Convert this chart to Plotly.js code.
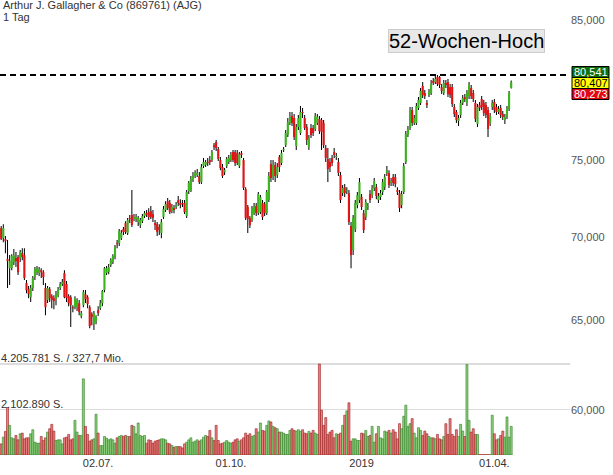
<!DOCTYPE html>
<html><head><meta charset="utf-8">
<script src="https://cdn.plot.ly/plotly-3.0.1.min.js"></script>
<style>html,body{margin:0;padding:0;background:#fff}#chart{width:613px;height:475px}</style>
</head><body><div id="chart"></div>
<script>
const open = [
70.59,69.96,69.90,68.66,68.11,68.11,68.48,68.72,68.79,68.72,
69.03,68.91,67.21,66.85,66.37,66.91,67.57,67.87,67.81,67.99,
67.87,66.91,66.20,66.85,66.43,66.31,66.25,66.49,66.91,67.15,
67.81,67.15,66.43,66.37,65.78,65.78,65.78,66.02,65.26,65.90,
66.55,66.37,65.78,65.37,64.79,64.97,65.61,65.72,66.02,66.79,
67.81,67.87,68.30,68.48,68.79,69.65,69.65,69.96,70.53,70.91,
70.28,71.23,71.42,71.16,71.16,70.97,70.78,71.03,71.35,71.54,
71.61,71.67,71.48,70.91,70.84,70.66,70.28,71.29,71.74,72.31,
72.19,71.67,71.86,71.93,72.38,72.19,72.19,72.19,71.35,72.96,
72.96,73.68,73.95,74.01,73.95,73.55,74.61,74.68,74.88,75.01,
75.01,76.02,76.23,75.75,75.01,74.54,74.21,74.61,74.88,75.01,
75.55,75.55,75.48,74.61,75.48,75.01,73.09,71.93,71.23,71.10,
71.54,71.99,71.54,71.61,72.19,72.12,71.54,72.38,74.74,73.88,
74.68,74.01,75.21,74.81,75.68,76.02,76.71,77.53,78.02,77.88,
75.96,77.26,76.84,78.30,77.88,77.26,75.89,77.19,77.19,77.12,
77.53,77.81,77.74,77.53,75.82,75.08,74.88,75.15,75.55,75.21,
74.88,74.01,72.83,73.22,72.96,72.83,70.72,69.22,70.53,72.06,
72.38,72.57,71.54,71.29,71.93,72.77,72.70,73.16,73.22,72.38,
72.57,72.90,73.22,74.15,74.15,73.49,73.88,73.88,73.03,72.83,
72.06,72.90,74.88,76.71,77.19,78.44,77.53,77.53,78.58,78.93,
80.14,79.64,78.93,79.49,79.64,80.49,80.42,80.78,80.78,80.06,
79.64,80.35,80.42,80.06,80.06,78.65,78.30,77.67,78.09,78.93,
79.35,78.93,79.42,79.99,79.64,78.93,77.46,78.79,79.21,78.93,
78.79,78.44,77.53,78.65,79.00,78.65,78.30,78.58,78.16,77.74,
77.95,78.51,80.00];
const close = [
69.90,70.59,69.78,68.54,68.54,68.85,68.91,68.54,67.87,69.10,
68.79,67.51,66.79,66.55,66.91,67.51,68.05,68.11,68.05,67.87,
67.57,65.78,66.91,66.31,66.20,66.14,66.55,66.85,67.15,67.27,
66.37,66.31,66.02,65.90,65.72,66.31,66.20,65.49,65.43,66.67,
66.25,65.96,64.68,65.20,65.43,65.20,65.43,66.02,66.73,68.11,
68.11,68.18,68.60,68.85,69.40,69.59,70.40,70.28,70.34,70.34,
71.10,71.16,70.78,71.29,71.29,71.23,71.10,71.35,71.54,71.42,
71.29,71.29,71.23,70.78,70.34,70.47,70.97,71.80,72.12,71.86,
71.61,71.93,71.74,72.06,72.19,72.06,72.12,71.61,72.90,73.49,
73.75,73.95,74.15,74.15,73.55,74.54,74.88,74.88,74.81,74.88,
75.55,75.89,75.82,75.08,74.48,73.95,74.34,75.08,75.15,75.35,
75.01,74.81,74.81,75.41,75.35,73.16,71.23,71.16,70.78,71.86,
71.99,71.54,72.77,72.57,71.29,71.54,72.90,73.95,73.82,74.68,
73.95,74.54,74.54,75.48,75.75,76.84,77.60,77.95,77.53,76.57,
77.26,77.88,78.30,78.23,77.19,76.36,76.50,76.71,76.84,78.02,
77.95,76.98,76.91,76.02,75.15,74.41,74.54,74.81,75.35,75.28,
74.15,72.38,73.16,72.83,73.03,70.97,68.91,71.23,72.19,72.70,
73.55,71.93,70.47,72.25,71.99,72.38,73.16,73.62,72.64,72.64,
72.83,73.55,73.88,74.34,73.36,73.62,73.49,73.42,72.90,71.86,
72.77,74.61,76.77,77.12,78.44,77.53,77.88,78.72,79.14,79.78,
79.49,79.42,78.79,79.71,80.28,80.35,80.64,80.28,80.21,79.78,
80.35,80.21,79.56,79.49,78.86,78.16,77.74,77.88,78.93,79.28,
79.21,79.64,80.21,79.42,79.21,77.81,78.65,78.58,78.65,78.23,
78.09,77.12,78.02,78.93,78.44,78.30,78.51,78.09,77.95,77.95,
78.51,79.64,80.41];
const high = [
70.72,70.84,70.09,69.84,68.91,68.97,69.28,69.10,68.91,69.22,
69.34,69.34,67.39,67.03,67.09,67.63,68.18,68.24,68.18,68.11,
67.99,67.21,67.03,66.97,66.55,66.49,66.73,66.97,67.27,67.45,
67.99,67.33,66.55,66.49,65.90,66.43,66.31,66.20,65.55,66.79,
66.79,66.49,65.90,65.49,65.55,65.31,65.84,66.20,66.79,68.18,
68.24,68.36,68.72,68.97,69.53,69.84,70.53,70.47,70.66,71.03,
71.23,71.42,73.03,71.48,71.48,71.35,71.23,71.48,71.67,71.74,
71.86,71.99,71.74,71.10,70.97,70.84,71.16,71.99,72.31,72.51,
72.38,72.12,72.06,72.25,72.64,72.44,72.38,72.38,73.03,73.62,
73.95,74.21,74.34,74.41,74.21,74.74,75.15,75.01,75.15,75.28,
75.68,76.16,76.36,75.89,75.21,74.74,74.48,75.21,75.35,75.55,
75.68,75.68,75.68,75.55,75.62,75.15,73.22,72.06,71.35,71.99,
72.19,72.19,72.90,72.70,72.38,72.25,73.03,74.21,75.01,75.01,
74.88,74.81,75.35,75.68,75.89,77.05,77.88,78.30,78.30,78.16,
77.46,78.09,78.72,78.58,78.09,77.46,76.71,77.46,77.39,78.23,
78.16,78.02,77.88,77.74,76.02,75.82,75.15,75.35,75.82,75.48,
75.15,74.21,73.36,73.42,73.22,73.03,70.97,71.42,72.38,72.90,
73.82,72.77,71.74,72.44,72.19,73.03,73.36,73.82,73.42,72.83,
73.03,73.75,74.08,74.61,74.34,73.82,74.08,74.08,73.22,73.03,
72.96,74.81,76.98,77.32,78.65,78.65,78.09,78.93,79.35,79.99,
80.42,79.85,79.14,79.92,80.57,80.71,80.85,80.93,80.85,80.28,
80.57,80.57,80.64,80.28,80.28,78.86,78.44,78.09,79.14,79.49,
79.56,79.85,80.42,80.21,79.85,79.14,78.86,79.00,79.42,79.14,
79.00,78.65,78.23,79.14,79.21,78.86,78.72,78.79,78.37,78.16,
78.72,79.78,80.54];
const low = [
69.84,69.71,69.03,66.91,67.09,67.99,68.30,68.18,67.69,68.48,
68.60,67.39,66.61,66.31,66.08,66.73,67.39,67.69,67.63,67.51,
67.09,65.31,66.02,66.08,65.72,65.66,65.90,66.37,66.79,67.03,
66.31,66.08,65.84,64.62,65.49,65.66,65.55,65.31,65.14,65.78,
66.02,65.72,64.56,64.73,64.45,64.79,65.26,65.61,65.84,66.67,
67.69,67.75,68.18,68.36,68.66,69.34,69.47,69.84,70.15,70.22,
70.15,70.91,70.66,71.03,70.97,70.72,70.59,70.91,71.23,71.29,
71.10,71.16,70.97,70.47,70.09,70.15,69.96,71.16,71.61,71.74,
71.48,71.54,71.54,71.80,71.99,71.86,71.93,71.48,71.23,72.77,
72.90,73.55,73.82,73.88,73.42,73.42,74.48,74.54,74.61,74.68,
74.88,75.68,75.62,74.94,74.34,73.82,74.01,74.48,74.74,74.88,
74.88,74.61,74.68,74.48,75.15,73.03,71.10,70.28,70.59,70.97,
71.42,71.35,71.42,71.48,71.10,71.35,71.42,72.25,73.55,73.68,
73.55,73.82,74.21,74.68,75.55,75.89,76.57,77.39,77.32,76.36,
75.68,77.05,76.71,77.88,77.05,76.02,75.68,76.50,76.64,76.98,
77.39,76.77,75.68,75.82,74.88,73.55,74.21,74.61,75.15,75.01,
73.95,72.19,72.64,72.57,72.77,70.78,68.11,68.91,70.34,71.86,
72.19,71.74,70.28,71.10,71.74,72.19,72.51,72.96,72.44,72.19,
72.38,72.70,73.03,73.95,73.16,73.29,73.29,73.22,72.70,71.61,
71.86,72.77,74.74,76.57,77.05,77.32,77.39,77.39,78.44,78.79,
79.28,79.21,78.58,79.35,79.49,80.21,80.28,80.14,79.99,79.56,
79.49,79.99,79.35,79.28,78.65,77.95,77.53,77.32,77.88,78.79,
79.00,78.72,79.21,79.21,79.00,77.60,77.26,78.37,78.44,78.02,
77.88,76.57,77.32,78.44,78.23,78.09,78.16,77.88,77.74,77.46,
77.81,78.37,79.95];
const volume = [
514000,825000,1090000,2195000,1370000,794000,747000,903000,701000,981000,
1012000,747000,794000,794000,981000,1168000,592000,545000,545000,856000,
670000,794000,1059000,1214000,1417000,1105000,670000,701000,701000,514000,
794000,825000,950000,701000,747000,1604000,1059000,903000,903000,3519000,
1323000,950000,638000,701000,747000,1884000,1012000,436000,436000,856000,
779000,701000,747000,701000,545000,794000,856000,903000,856000,903000,
856000,856000,1370000,1323000,981000,1479000,903000,856000,903000,545000,
701000,670000,545000,638000,670000,701000,747000,747000,701000,545000,
514000,436000,358000,389000,389000,389000,327000,514000,592000,701000,
794000,592000,638000,701000,638000,701000,825000,903000,856000,1137000,
794000,670000,1370000,670000,514000,545000,592000,670000,592000,545000,
592000,701000,747000,638000,701000,794000,1012000,903000,981000,856000,
903000,1214000,1059000,1479000,1137000,1105000,1370000,1573000,1526000,1323000,
1261000,1214000,1059000,1059000,1012000,950000,950000,1137000,1214000,1137000,
1105000,1168000,1090000,1168000,1012000,981000,1090000,1012000,1137000,1012000,
950000,4205781,2071000,1370000,1728000,950000,1059000,1137000,794000,981000,
950000,1012000,1370000,1837000,2040000,2413000,638000,747000,747000,670000,
670000,1012000,981000,1137000,856000,903000,1323000,592000,981000,1323000,
794000,747000,1105000,1059000,1137000,1012000,1168000,1059000,747000,1448000,
1214000,1791000,2304000,1323000,1448000,1682000,1012000,794000,1261000,1137000,
903000,1105000,981000,856000,794000,794000,747000,950000,747000,701000,
856000,1448000,950000,1682000,950000,856000,1168000,856000,1417000,1105000,
856000,4180000,1604000,1059000,1214000,950000,950000,16000,16000,16000,
16000,16000,16000,1837000,981000,701000,747000,900000,1105000,825000,
1759000,825000,1323000];

const priceTicks = [60, 65, 70, 75, 85];
const priceTickText = ['60,000', '65,000', '70,000', '75,000', '85,000'];
const dateTickIdx = [46, 109, 171, 234];
const dateTickText = ['02.07.', '01.10.', '2019', '01.04.'];
const volTicks = [2102890, 4205781];
const volTickText = ['2.102.890 S.', '4.205.781 S. / 327,7 Mio.'];
const quoteValues = ['80,541', '80,407', '80,273'];
const titleLines = ['Arthur J. Gallagher &amp; Co (869761) (AJG)', '1 Tag'];
const highLabel = '52-Wochen-Hoch';

const UP = '#3cb41e', DOWN = '#e01414';
const idx = open.map((_, i) => i);
const isUp = idx.map(i => close[i] >= open[i]);

const wickBase = low.slice();
const wickSize = idx.map(i => high[i] - low[i]);
const bodyBase = idx.map(i => Math.min(open[i], close[i]));
const bodySize = idx.map(i => Math.max(Math.abs(close[i] - open[i]), 0.05));

const yR = [Math.log10(57.65), Math.log10(86.53)];
const maxHigh = Math.max(...high);
const hiPaper = (Math.log10(maxHigh) - yR[0]) / (yR[1] - yR[0]);

const PW = 570, PH = 455;
const px = v => v / PW, py = v => 1 - v / PH;

const traces = [
  {type:'bar', x: idx, y: volume, yaxis:'y2', width:0.95,
   marker:{color: isUp.map(u => u ? '#8fd17e' : '#ea8080'),
           line:{color: isUp.map(u => u ? '#2f7d22' : '#9b1c1c'), width:0.6}},
   hoverinfo:'skip'},
  {type:'bar', x: idx, y: wickSize, base: wickBase, width:0.48,
   marker:{color:'#000', line:{width:0}}, hoverinfo:'skip'},
  {type:'bar', x: idx, y: bodySize, base: bodyBase, width:1.0,
   marker:{color: isUp.map(u => u ? UP : DOWN), line:{width:0}}, hoverinfo:'skip'}
];

const quoteStyles = [
  {bg:'#0f6e0f', fg:'#ffffff'},
  {bg:'#ffff00', fg:'#000000'},
  {bg:'#e30613', fg:'#ffffff'}
];
const boxTop = 66.5, boxH = 11;
const shapes = [
  {type:'line', xref:'paper', yref:'paper', x0:0, x1:px(568), y0:hiPaper, y1:hiPaper,
   line:{color:'#000', width:2, dash:'6px,4px'}}
];
const annotations = [
  {xref:'paper', yref:'paper', x:px(2), y:py(5.5), xanchor:'left', yanchor:'middle',
   text:titleLines[0], showarrow:false, font:{size:11, color:'#333'}, borderpad:0},
  {xref:'paper', yref:'paper', x:px(2), y:py(17.5), xanchor:'left', yanchor:'middle',
   text:titleLines[1], showarrow:false, font:{size:11, color:'#333'}, borderpad:0},
  {xref:'paper', yref:'paper', x:px(466), y:py(40.5), xanchor:'center', yanchor:'middle',
   text:highLabel, showarrow:false, font:{size:20, color:'#000'},
   bgcolor:'#e8e8e8', bordercolor:'#cccccc', borderwidth:1, borderpad:0}
];
volTicks.forEach((v, k) => annotations.push({
  xref:'paper', yref:'y2', x:0, y:v, xanchor:'left', yanchor:'bottom', yshift:-1,
  text:volTickText[k], showarrow:false, font:{size:11, color:'#333'}, borderpad:0}));
quoteValues.forEach((q, k) => {
  const t = boxTop + k * boxH;
  shapes.push({type:'rect', xref:'paper', yref:'paper', x0:px(572), x1:px(609),
    y0:py(t), y1:py(t + boxH), fillcolor:quoteStyles[k].bg, line:{color:'#000', width:1}, layer:'above'});
  annotations.push({xref:'paper', yref:'paper', x:px(590.5), y:py(t + boxH/2), xanchor:'center', yanchor:'middle',
    text:q, showarrow:false, font:{size:11, color:quoteStyles[k].fg}, borderpad:0});
});

const layout = {
  width:613, height:475,
  margin:{l:0, r:43, t:0, b:20, pad:0},
  paper_bgcolor:'#fff', plot_bgcolor:'#fff',
  showlegend:false, barmode:'overlay',
  font:{family:'"Liberation Sans", Arial, sans-serif', size:11, color:'#333'},
  xaxis:{range:[-0.57, 269.9], tickvals:dateTickIdx, ticktext:dateTickText,
         showgrid:false, zeroline:false, showline:false, ticks:'',
         tickfont:{size:11, color:'#333'}},
  yaxis:{type:'log', range:yR, side:'right', tickvals:priceTicks, ticktext:priceTickText,
         showgrid:false, zeroline:false, showline:false, ticks:'',
         tickfont:{size:11, color:'#555'}},
  yaxis2:{overlaying:'y', side:'left', range:[0, 21.03e6], tickvals:volTicks,
          showticklabels:false, showgrid:true, gridcolor:'#dcdcdc', gridwidth:1.5,
          zeroline:false, showline:false, ticks:''},
  shapes: shapes,
  annotations: annotations
};

Plotly.newPlot('chart', traces, layout, {staticPlot:true, displayModeBar:false});
</script>
</body></html>
